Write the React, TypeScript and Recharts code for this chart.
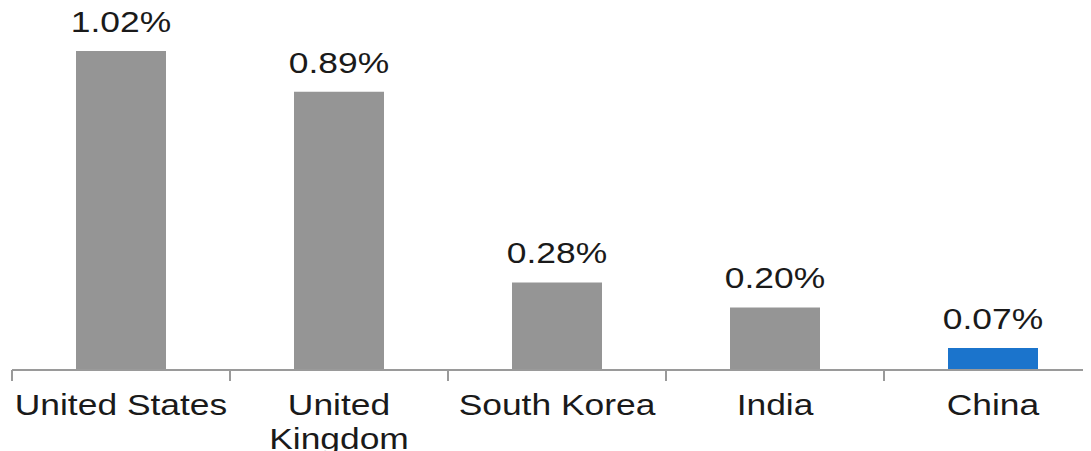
import { BarChart, Bar, XAxis, YAxis, Cell, LabelList } from 'recharts';

const categories = ['United States', 'United\nKingdom', 'South Korea', 'India', 'China'];
const shares = [1.02, 0.89, 0.28, 0.2, 0.07];
const highlighted = 'China';

const data = categories.map((name, i) => ({ name, value: shares[i] }));

const FONT = '"Liberation Sans", Arial, sans-serif';
const STRETCH = 1.18;

const CategoryTick = (props: any) => {
  const { x, y, payload } = props;
  const half = payload.offset ?? 109;
  const lines = String(payload.value).split('\n');
  return (
    <g>
      <line x1={x - half} y1={y} x2={x - half} y2={y + 11} stroke="#9a9a9a" strokeWidth={2} />
      <text
        transform={`translate(${x},${y}) scale(${STRETCH},1)`}
        textAnchor="middle"
        fontFamily={FONT}
        fontSize={30}
        fill="#1a1a1a"
      >
        {lines.map((line, i) => (
          <tspan key={i} x={0} y={45 + i * 34}>
            {line}
          </tspan>
        ))}
      </text>
    </g>
  );
};

const ValueLabel = (props: any) => {
  const { x, y, width, value } = props;
  return (
    <text
      transform={`translate(${x + width / 2},${y - 19}) scale(${STRETCH},1)`}
      textAnchor="middle"
      fontFamily={FONT}
      fontSize={30}
      fill="#1a1a1a"
    >
      {`${Number(value).toFixed(2)}%`}
    </text>
  );
};

export default function App() {
  return (
    <div style={{ width: 1083, overflow: 'hidden' }}>
      <BarChart
        width={1100}
        height={443}
        data={data}
        margin={{ top: 18, right: 6, left: 4, bottom: 11 }}
      >
        <XAxis
          dataKey="name"
          interval={0}
          height={70}
          tickSize={0}
          tickMargin={0}
          tickLine={false}
          axisLine={{ stroke: '#9a9a9a', strokeWidth: 2 }}
          tick={<CategoryTick />}
        />
        <YAxis hide domain={[0, 1.1]} />
        <Bar dataKey="value" barSize={90} isAnimationActive={false}>
          {data.map((d, i) => (
            <Cell key={`cell-${i}`} fill={d.name === highlighted ? '#1b74cc' : '#959595'} />
          ))}
          <LabelList dataKey="value" content={<ValueLabel />} />
        </Bar>
      </BarChart>
    </div>
  );
}
